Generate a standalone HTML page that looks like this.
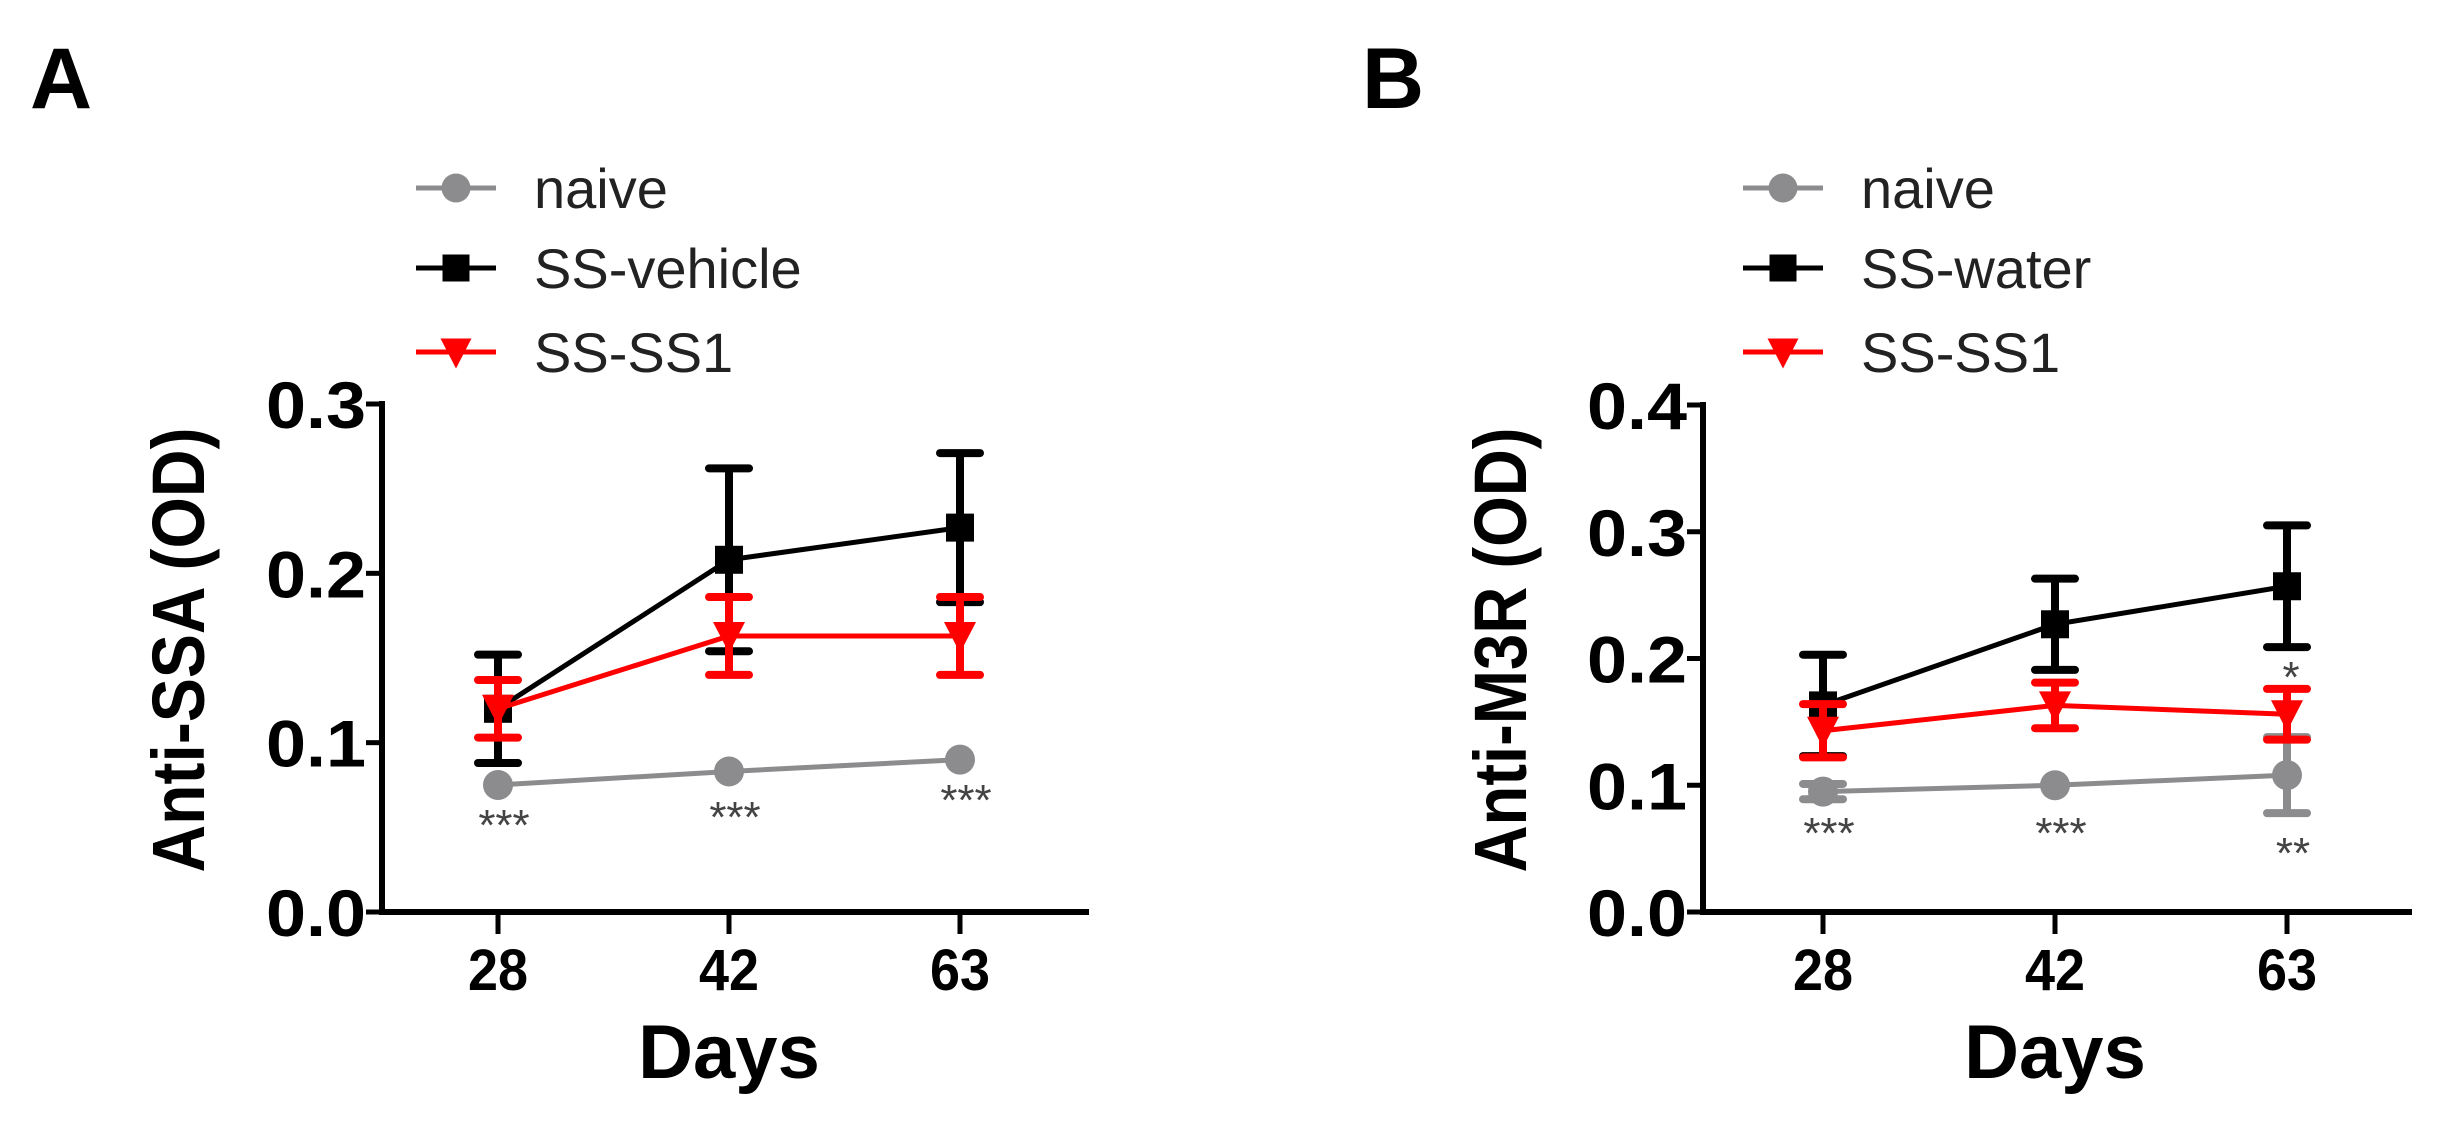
<!DOCTYPE html>
<html><head><meta charset="utf-8"><style>
html,body{margin:0;padding:0;background:#fff;}
svg{display:block;font-family:"Liberation Sans",Arial,sans-serif;}
</style></head><body>
<svg id="fig" width="2444" height="1133" viewBox="0 0 2444 1133" xmlns="http://www.w3.org/2000/svg"></svg>
<script>
const categories = ["28","42","63"];
// Panel A
const aNaive = [0.075, 0.083, 0.090];
const aNaiveErr = [0.002, 0.002, 0.002];
const aVehicle = [0.120, 0.208, 0.227];
const aVehicleErr = [0.032, 0.054, 0.044];
const aSS1 = [0.120, 0.163, 0.163];
const aSS1Err = [0.017, 0.023, 0.023];
const aStars = ["***","***","***"];
const aTicks = [0.0, 0.1, 0.2, 0.3];
const aTickLabels = ["0.0","0.1","0.2","0.3"];
// Panel B
const bNaive = [0.095, 0.100, 0.108];
const bNaiveErr = [0.006, 0.003, 0.030];
const bWater = [0.163, 0.227, 0.257];
const bWaterErr = [0.040, 0.036, 0.048];
const bSS1 = [0.143, 0.163, 0.156];
const bSS1Err = [0.021, 0.018, 0.020];
const bStars = ["***","***","**"];
const bTicks = [0.0, 0.1, 0.2, 0.3, 0.4];
const bTickLabels = ["0.0","0.1","0.2","0.3","0.4"];

const NS = "http://www.w3.org/2000/svg";
const svg = document.getElementById('fig');
function mk(tag, attrs, parent, name, text){
  const e = document.createElementNS(NS, tag);
  for (const k in attrs) e.setAttribute(k, attrs[k]);
  
  
  if (text !== undefined) e.textContent = text;
  (parent || svg).appendChild(e);
  return e;
}
function marker(g, kind, x, y, color, s, name){
  if (kind === 'circle') return mk('circle', {cx:x, cy:y, r:s/2+1, fill:color}, g, name);
  if (kind === 'square') return mk('rect', {x:x-s/2, y:y-s/2, width:s, height:s, fill:color}, g, name);
  return mk('polygon', {points:`${x-s/2-2},${y-s/2} ${x+s/2+2},${y-s/2} ${x},${y+s/2+3}`, fill:color}, g, name);
}

function panel(cfg){
  const g = mk('g', {}, svg, cfg.id);
  const y = v => cfg.y0 - (v - 0) / cfg.ymax * (cfg.y0 - cfg.yTop);
  const x = i => cfg.x0 + i * cfg.dx;
  mk('text', {x:cfg.letterX, y:108, 'font-size':86, 'font-weight':'bold', fill:'#000'}, g, cfg.id+'-letter', cfg.letter);
  mk('line', {x1:cfg.ax, y1:cfg.yTop-3, x2:cfg.ax, y2:cfg.y0+3, stroke:'#000','stroke-width':6}, g, 'y-axis');
  mk('line', {x1:cfg.ax-3, y1:cfg.y0, x2:cfg.xEnd, y2:cfg.y0, stroke:'#000','stroke-width':6}, g, 'x-axis');
  cfg.ticks.forEach((t,i)=>{
    mk('line', {x1:cfg.ax-16, y1:y(t), x2:cfg.ax, y2:y(t), stroke:'#000','stroke-width':5}, g, 'y-tick');
    mk('text', {x:cfg.ax-16, y:y(t)+24, 'font-size':66, 'font-weight':'bold','text-anchor':'end', fill:'#000', textLength:100, lengthAdjust:'spacingAndGlyphs'}, g, 'y-tick-label', cfg.tickLabels[i]);
  });
  categories.forEach((c,i)=>{
    mk('line', {x1:x(i), y1:cfg.y0, x2:x(i), y2:cfg.y0+22, stroke:'#000','stroke-width':5}, g, 'x-tick');
    mk('text', {x:x(i), y:990, 'font-size':58, 'font-weight':'bold','text-anchor':'middle', fill:'#000', textLength:60, lengthAdjust:'spacingAndGlyphs'}, g, 'x-tick-label', c);
  });
  mk('text', {x:x(1), y:1078, 'font-size':76, 'font-weight':'bold','text-anchor':'middle', fill:'#000'}, g, 'x-axis-title', 'Days');
  mk('text', {x:0, y:0, 'font-size':74, 'font-weight':'bold','text-anchor':'middle', fill:'#000', textLength:445, lengthAdjust:'spacingAndGlyphs', transform:`translate(${cfg.titleX},650) rotate(-90)`}, g, 'y-axis-title', cfg.title);
  cfg.series.forEach(s=>{
    const sg = mk('g', {}, g, 'series-'+s.key);
    const pts = s.vals.map((v,i)=>`${x(i)},${y(v)}`).join(' ');
    mk('polyline', {points:pts, fill:'none', stroke:s.color, 'stroke-width':5}, sg, 'line-'+s.key);
    s.vals.forEach((v,i)=>{
      const e = s.err[i];
      mk('line', {x1:x(i), y1:y(v+e), x2:x(i), y2:y(v-e), stroke:s.color,'stroke-width':8}, sg, 'error-bar');
      if (e > 0.004) {
        mk('line', {x1:x(i)-20, y1:y(v+e), x2:x(i)+20, y2:y(v+e), stroke:s.color,'stroke-width':8,'stroke-linecap':'round'}, sg, 'error-cap-top');
        mk('line', {x1:x(i)-20, y1:y(v-e), x2:x(i)+20, y2:y(v-e), stroke:s.color,'stroke-width':8,'stroke-linecap':'round'}, sg, 'error-cap-bottom');
      }
      marker(sg, s.marker, x(i), y(v), s.color, 28, 'point-'+s.key);
    });
  });
  cfg.stars.forEach((st,i)=>{
    mk('text', {x:x(i)+6, y:cfg.starY[i], 'font-size':44, fill:'#444','text-anchor':'middle'}, g, 'significance-stars', st);
  });
  if (cfg.extraStar) mk('text', {x:x(2)+4, y:cfg.extraStar, 'font-size':44, fill:'#444','text-anchor':'middle'}, g, 'significance-star', '*');
  const lg = mk('g', {}, g, 'legend');
  cfg.series.forEach((s,i)=>{
    const ly = [188,268,352][i];
    const eg = mk('g', {}, lg, 'legend-entry');
    mk('line', {x1:cfg.legX, y1:ly, x2:cfg.legX+80, y2:ly, stroke:s.color,'stroke-width':5}, eg, 'legend-line');
    marker(eg, s.marker, cfg.legX+40, ly, s.color, 27, 'legend-marker');
    mk('text', {x:cfg.legX+118, y:ly+20, 'font-size':56, fill:'#222'}, eg, 'legend-label', s.label);
  });
}

panel({id:'panel-a', letter:'A', letterX:30, ax:382, y0:912, yTop:404, ymax:0.3, x0:498, dx:231, xEnd:1089,
  ticks:aTicks, tickLabels:aTickLabels, title:'Anti-SSA (OD)', titleX:204, legX:416,
  stars:aStars, starY:[840,832,815],
  series:[
    {key:'naive', label:'naive', color:'#8c8c8e', marker:'circle', vals:aNaive, err:aNaiveErr},
    {key:'ss-vehicle', label:'SS-vehicle', color:'#000', marker:'square', vals:aVehicle, err:aVehicleErr},
    {key:'ss-ss1', label:'SS-SS1', color:'#f00', marker:'triangle', vals:aSS1, err:aSS1Err}
  ]});
panel({id:'panel-b', letter:'B', letterX:1362, ax:1703, y0:912, yTop:405, ymax:0.4, x0:1823, dx:232, xEnd:2412,
  ticks:bTicks, tickLabels:bTickLabels, title:'Anti-M3R (OD)', titleX:1526, legX:1743,
  stars:bStars, starY:[848,848,868], extraStar:692,
  series:[
    {key:'naive', label:'naive', color:'#8c8c8e', marker:'circle', vals:bNaive, err:bNaiveErr},
    {key:'ss-water', label:'SS-water', color:'#000', marker:'square', vals:bWater, err:bWaterErr},
    {key:'ss-ss1', label:'SS-SS1', color:'#f00', marker:'triangle', vals:bSS1, err:bSS1Err}
  ]});
</script>
</body></html>
